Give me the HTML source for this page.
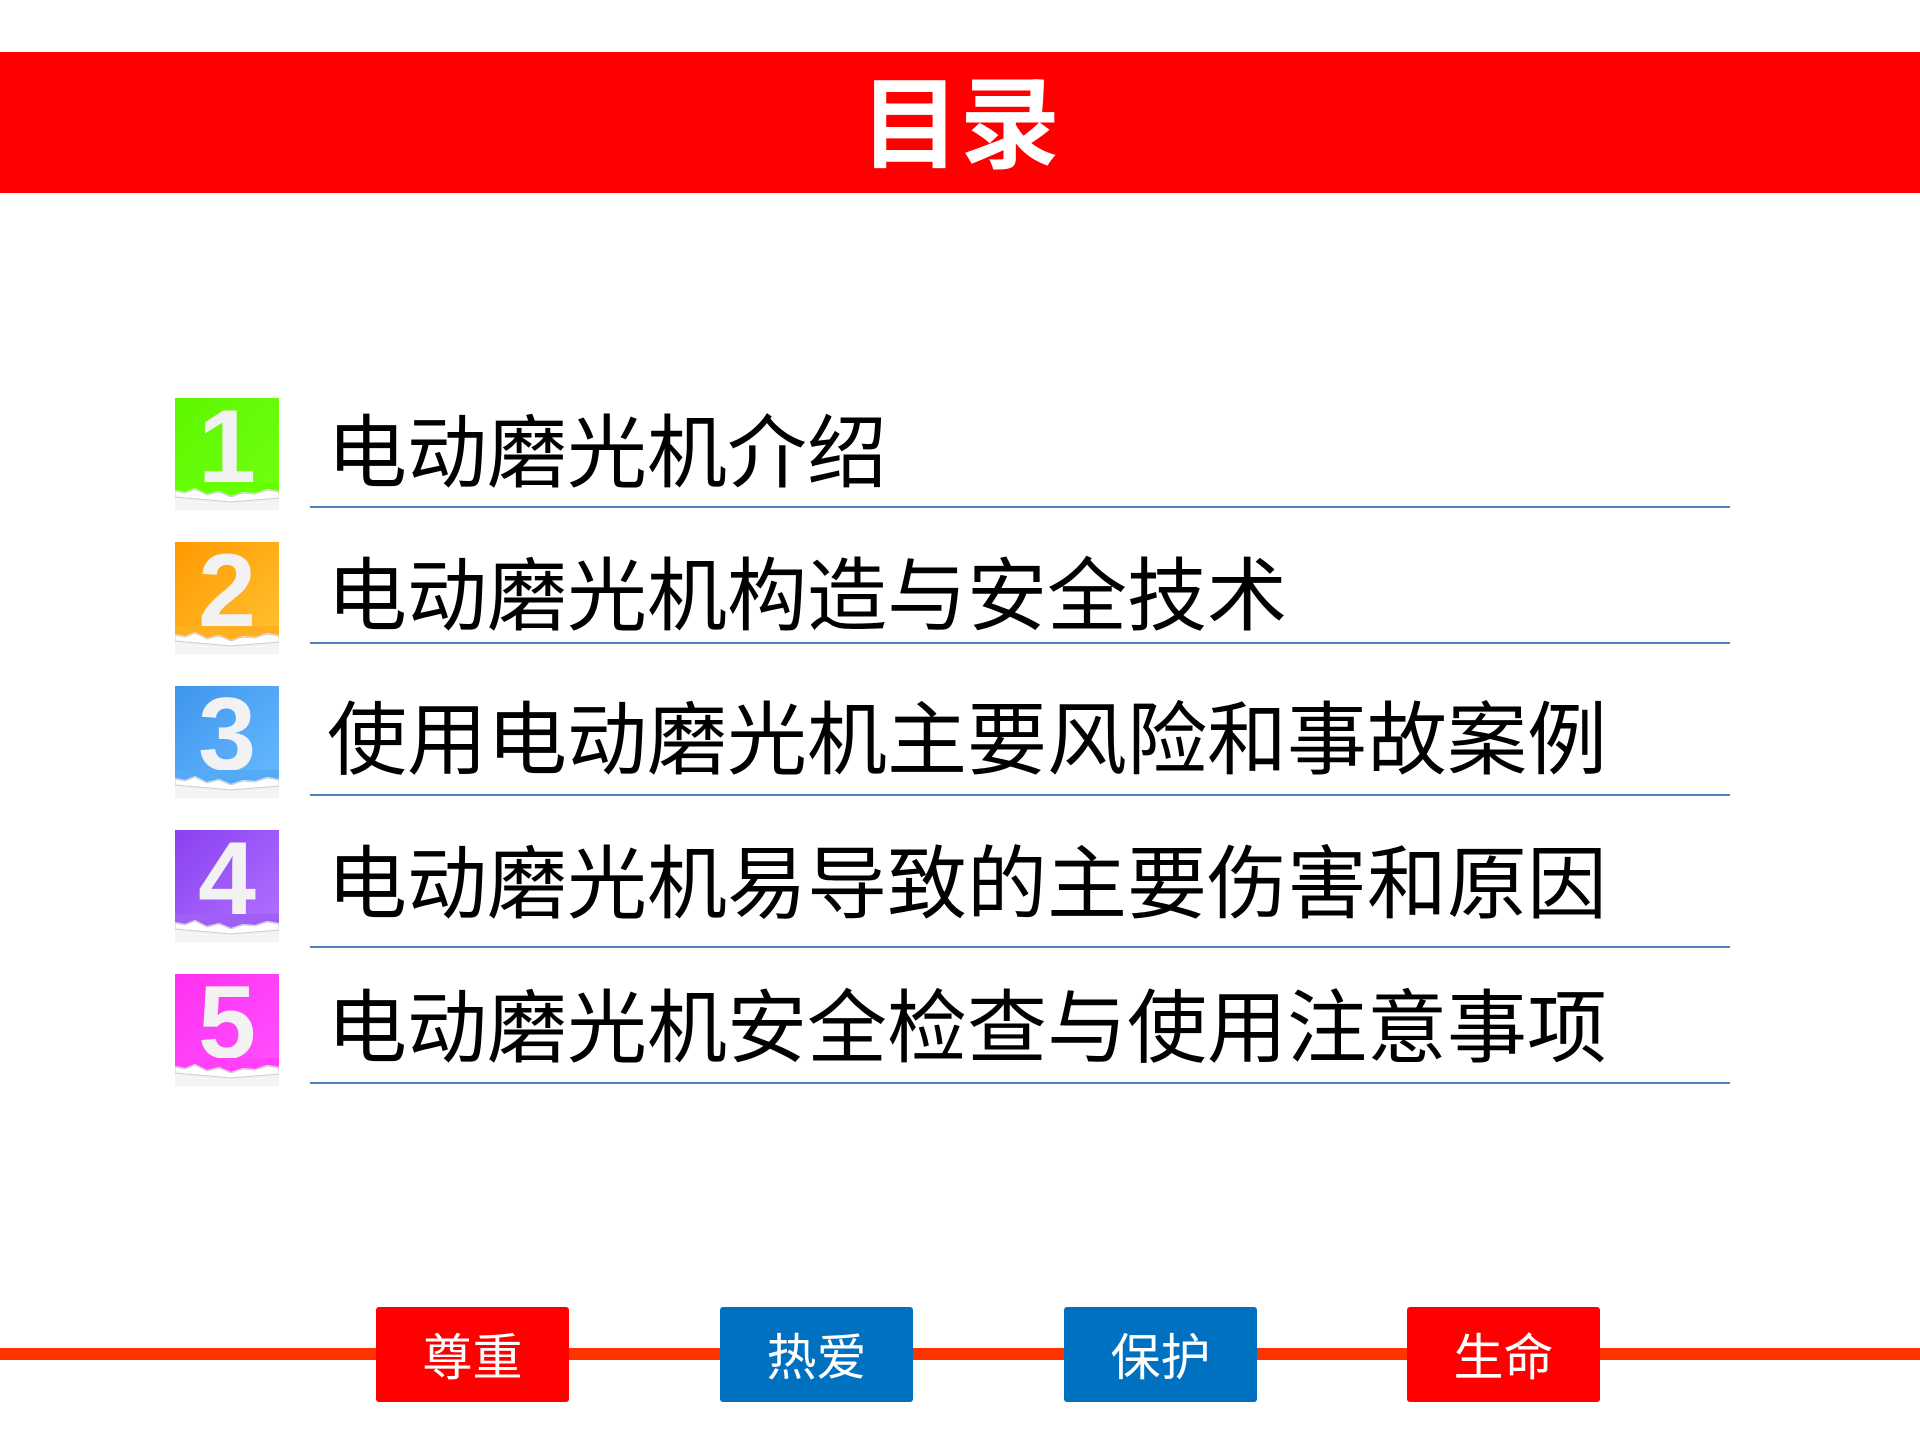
<!DOCTYPE html>
<html><head><meta charset="utf-8"><style>
html,body{margin:0;padding:0;background:#fff;}
body{width:1920px;height:1440px;position:relative;overflow:hidden;font-family:"Liberation Sans","Noto Sans CJK SC",sans-serif;}
.hdr{position:absolute;left:0;top:52px;width:1920px;height:141px;background:#ff0000;}
.title{position:absolute;left:0;top:46px;width:1920px;height:141px;line-height:141px;text-align:center;color:#fff;font-size:100px;font-weight:bold;font-family:"Noto Sans CJK SC",sans-serif;}
.badge{position:absolute;left:175px;width:104px;height:112px;}
.badge .c{position:absolute;left:0;top:0;width:104px;height:92px;}
.badge .n{position:absolute;left:0;top:-4px;width:104px;text-align:center;color:#f2f2f2;font-size:104px;font-weight:bold;font-family:"Liberation Sans",sans-serif;line-height:106px;}
.badge svg{position:absolute;left:0;top:84px;}
.item{position:absolute;left:327px;font-size:80px;color:#000;font-family:"Noto Sans CJK SC",sans-serif;line-height:100px;white-space:nowrap;}
.ul{position:absolute;left:310px;width:1420px;height:2px;background:#4f81bd;}
.bline{position:absolute;left:0;top:1348px;width:1920px;height:12px;background:#ff3300;}
.bb{position:absolute;top:1307px;width:193px;height:95px;color:#fff;font-size:50px;text-align:center;line-height:95px;font-family:"Noto Sans CJK SC",sans-serif;border-radius:3px;}
</style></head><body>
<div class="hdr"></div>
<div class="title">目录</div>

<div class="badge" style="top:398px"><div class="c" style="background:linear-gradient(135deg,#5cf700,#70ff10)"></div><div class="n">1</div><svg width="104" height="28"><rect x="0" y="0" width="104" height="28" fill="#f3f4f3"/><path d="M0 8 L10 10 L20 6 L32 12 L44 9 L56 14 L68 10 L80 11 L92 7 L104 9 L104 0 L0 0Z" fill="#66ff00"/><path d="M0 9 L10 11 L20 7 L32 13 L44 10 L56 15 L68 11 L80 12 L92 8 L104 10 L104 16 L56 20 L0 15Z" fill="#fff" stroke="#ccc" stroke-width="1"/></svg></div>
<div class="badge" style="top:542px"><div class="c" style="background:linear-gradient(135deg,#ff9900,#ffc030)"></div><div class="n">2</div><svg width="104" height="28"><rect x="0" y="0" width="104" height="28" fill="#f3f4f3"/><path d="M0 8 L10 10 L20 6 L32 12 L44 9 L56 14 L68 10 L80 11 L92 7 L104 9 L104 0 L0 0Z" fill="#ffb020"/><path d="M0 9 L10 11 L20 7 L32 13 L44 10 L56 15 L68 11 L80 12 L92 8 L104 10 L104 16 L56 20 L0 15Z" fill="#fff" stroke="#ccc" stroke-width="1"/></svg></div>
<div class="badge" style="top:686px"><div class="c" style="background:linear-gradient(135deg,#3f95ee,#66b8ff)"></div><div class="n">3</div><svg width="104" height="28"><rect x="0" y="0" width="104" height="28" fill="#f3f4f3"/><path d="M0 8 L10 10 L20 6 L32 12 L44 9 L56 14 L68 10 L80 11 L92 7 L104 9 L104 0 L0 0Z" fill="#55aaf8"/><path d="M0 9 L10 11 L20 7 L32 13 L44 10 L56 15 L68 11 L80 12 L92 8 L104 10 L104 16 L56 20 L0 15Z" fill="#fff" stroke="#ccc" stroke-width="1"/></svg></div>
<div class="badge" style="top:830px"><div class="c" style="background:linear-gradient(135deg,#8a40f0,#b070ff)"></div><div class="n">4</div><svg width="104" height="28"><rect x="0" y="0" width="104" height="28" fill="#f3f4f3"/><path d="M0 8 L10 10 L20 6 L32 12 L44 9 L56 14 L68 10 L80 11 L92 7 L104 9 L104 0 L0 0Z" fill="#a060f8"/><path d="M0 9 L10 11 L20 7 L32 13 L44 10 L56 15 L68 11 L80 12 L92 8 L104 10 L104 16 L56 20 L0 15Z" fill="#fff" stroke="#ccc" stroke-width="1"/></svg></div>
<div class="badge" style="top:974px"><div class="c" style="background:linear-gradient(135deg,#ff30f0,#ff50ff)"></div><div class="n">5</div><svg width="104" height="28"><rect x="0" y="0" width="104" height="28" fill="#f3f4f3"/><path d="M0 8 L10 10 L20 6 L32 12 L44 9 L56 14 L68 10 L80 11 L92 7 L104 9 L104 0 L0 0Z" fill="#ff40f8"/><path d="M0 9 L10 11 L20 7 L32 13 L44 10 L56 15 L68 11 L80 12 L92 8 L104 10 L104 16 L56 20 L0 15Z" fill="#fff" stroke="#ccc" stroke-width="1"/></svg></div>

<div class="item" style="top:397px">电动磨光机介绍</div>
<div class="ul" style="top:506px"></div>
<div class="item" style="top:540px">电动磨光机构造与安全技术</div>
<div class="ul" style="top:642px"></div>
<div class="item" style="top:684px">使用电动磨光机主要风险和事故案例</div>
<div class="ul" style="top:794px"></div>
<div class="item" style="top:828px">电动磨光机易导致的主要伤害和原因</div>
<div class="ul" style="top:946px"></div>
<div class="item" style="top:972px">电动磨光机安全检查与使用注意事项</div>
<div class="ul" style="top:1082px"></div>

<div class="bline"></div>
<div class="bb" style="left:376px;background:#ff0000">尊重</div>
<div class="bb" style="left:720px;background:#0070c0">热爱</div>
<div class="bb" style="left:1064px;background:#0070c0">保护</div>
<div class="bb" style="left:1407px;background:#ff0000">生命</div>
</body></html>
